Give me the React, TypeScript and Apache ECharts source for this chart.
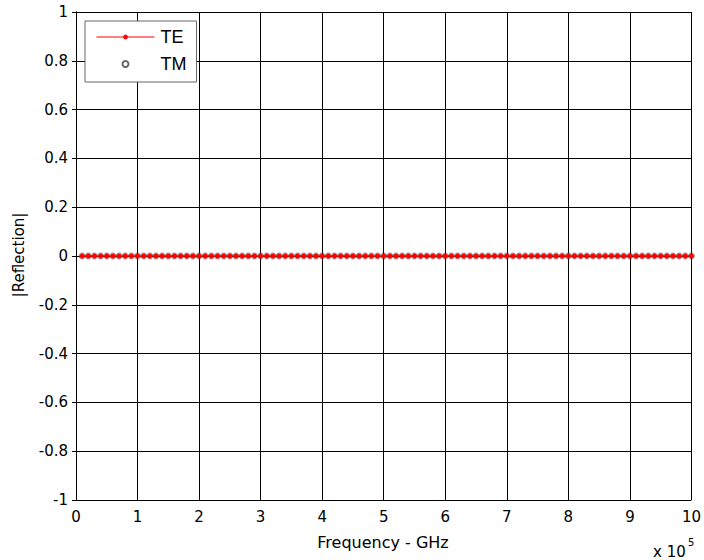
import React, { useEffect, useRef } from "react";
import * as echarts from "echarts";

// Frequency in units of 1e5 GHz
const frequency: number[] = [
  0.1, 0.2, 0.3, 0.4, 0.5, 0.6, 0.7, 0.8, 0.9, 1.0,
  1.1, 1.2, 1.3, 1.4, 1.5, 1.6, 1.7, 1.8, 1.9, 2.0,
  2.1, 2.2, 2.3, 2.4, 2.5, 2.6, 2.7, 2.8, 2.9, 3.0,
  3.1, 3.2, 3.3, 3.4, 3.5, 3.6, 3.7, 3.8, 3.9, 4.0,
  4.1, 4.2, 4.3, 4.4, 4.5, 4.6, 4.7, 4.8, 4.9, 5.0,
  5.1, 5.2, 5.3, 5.4, 5.5, 5.6, 5.7, 5.8, 5.9, 6.0,
  6.1, 6.2, 6.3, 6.4, 6.5, 6.6, 6.7, 6.8, 6.9, 7.0,
  7.1, 7.2, 7.3, 7.4, 7.5, 7.6, 7.7, 7.8, 7.9, 8.0,
  8.1, 8.2, 8.3, 8.4, 8.5, 8.6, 8.7, 8.8, 8.9, 9.0,
  9.1, 9.2, 9.3, 9.4, 9.5, 9.6, 9.7, 9.8, 9.9, 10.0,
];

const reflectionTE: number[] = [
  0, 0, 0, 0, 0, 0, 0, 0, 0, 0,
  0, 0, 0, 0, 0, 0, 0, 0, 0, 0,
  0, 0, 0, 0, 0, 0, 0, 0, 0, 0,
  0, 0, 0, 0, 0, 0, 0, 0, 0, 0,
  0, 0, 0, 0, 0, 0, 0, 0, 0, 0,
  0, 0, 0, 0, 0, 0, 0, 0, 0, 0,
  0, 0, 0, 0, 0, 0, 0, 0, 0, 0,
  0, 0, 0, 0, 0, 0, 0, 0, 0, 0,
  0, 0, 0, 0, 0, 0, 0, 0, 0, 0,
  0, 0, 0, 0, 0, 0, 0, 0, 0, 0,
];

const reflectionTM: number[] = [
  0, 0, 0, 0, 0, 0, 0, 0, 0, 0,
  0, 0, 0, 0, 0, 0, 0, 0, 0, 0,
  0, 0, 0, 0, 0, 0, 0, 0, 0, 0,
  0, 0, 0, 0, 0, 0, 0, 0, 0, 0,
  0, 0, 0, 0, 0, 0, 0, 0, 0, 0,
  0, 0, 0, 0, 0, 0, 0, 0, 0, 0,
  0, 0, 0, 0, 0, 0, 0, 0, 0, 0,
  0, 0, 0, 0, 0, 0, 0, 0, 0, 0,
  0, 0, 0, 0, 0, 0, 0, 0, 0, 0,
  0, 0, 0, 0, 0, 0, 0, 0, 0, 0,
];

const seriesNames = ["TE", "TM"];
const xAxisTitle = "Frequency - GHz";
const yAxisTitle = "|Reflection|";
const scaleBase = "x 10";
const scaleExponent = "5";
const FONT = "'DejaVu Sans', sans-serif";
const LEGEND_FONT = "'Liberation Sans', Arial, sans-serif";

export default function App() {
  const ref = useRef<HTMLDivElement>(null);
  useEffect(() => {
    if (!ref.current) return;
    const chart = echarts.init(ref.current, null, { renderer: "svg" });
    const axisLine = { show: true, lineStyle: { color: "#000", width: 1 } };
    const tickStyle = { show: true, inside: true, length: 4, lineStyle: { color: "#000" } };
    chart.setOption({
      animation: false,
      backgroundColor: "#fff",
      grid: { left: 76, right: 8, top: 12, bottom: 60, containLabel: false },
      legend: {
        left: 85,
        top: 21,
        orient: "vertical",
        data: seriesNames,
        backgroundColor: "#fff",
        borderColor: "#666",
        borderWidth: 1,
        borderRadius: 0,
        padding: [7, 10, 9, 11],
        itemGap: 9,
        itemWidth: 58,
        itemHeight: 6,
        lineStyle: { width: 1 },
        textStyle: { fontFamily: LEGEND_FONT, fontSize: 18, color: "#000", padding: [0, 0, 0, 1] },
      },
      xAxis: [
        {
          type: "value",
          min: 0,
          max: 10,
          interval: 1,
          position: "bottom",
          axisLine,
          axisTick: tickStyle,
          axisLabel: { fontFamily: FONT, fontSize: 15, color: "#000", margin: 9 },
          splitLine: { show: true, lineStyle: { color: "#000", width: 1 } },
        },
        {
          type: "value",
          min: 0,
          max: 10,
          interval: 1,
          position: "top",
          axisLine,
          axisTick: tickStyle,
          axisLabel: { show: false },
          splitLine: { show: false },
        },
      ],
      yAxis: [
        {
          type: "value",
          min: -1,
          max: 1,
          interval: 0.2,
          position: "left",
          axisLine,
          axisTick: tickStyle,
          axisLabel: {
            fontFamily: FONT,
            fontSize: 15,
            color: "#000",
            margin: 8,
            formatter: (v: number) => {
              const r = Math.round(v * 10) / 10;
              if (r === 0) return "0";
              if (r === 1) return "1";
              if (r === -1) return "-1";
              return r.toFixed(1);
            },
          },
          splitLine: { show: true, lineStyle: { color: "#000", width: 1 } },
        },
        {
          type: "value",
          min: -1,
          max: 1,
          interval: 0.2,
          position: "right",
          axisLine,
          axisTick: tickStyle,
          axisLabel: { show: false },
          splitLine: { show: false },
        },
      ],
      graphic: [
        {
          type: "text",
          x: 383,
          y: 542,
          style: {
            text: xAxisTitle,
            fontFamily: FONT,
            fontSize: 16,
            fill: "#000",
            align: "center",
            verticalAlign: "middle",
          },
        },
        {
          type: "text",
          x: 19,
          y: 255,
          rotation: Math.PI / 2,
          style: {
            text: yAxisTitle,
            fontFamily: FONT,
            fontSize: 15,
            fill: "#000",
            align: "center",
            verticalAlign: "middle",
          },
        },
        {
          type: "text",
          x: 653,
          y: 552,
          style: { text: scaleBase, fontFamily: FONT, fontSize: 15, fill: "#000", align: "left", verticalAlign: "middle" },
        },
        {
          type: "text",
          x: 688,
          y: 542,
          style: { text: scaleExponent, fontFamily: FONT, fontSize: 10, fill: "#000", align: "left", verticalAlign: "middle" },
        },
      ],
      series: [
        {
          name: "TM",
          type: "scatter",
          xAxisIndex: 0,
          yAxisIndex: 0,
          data: frequency.map((f, i) => [f, reflectionTM[i]]),
          symbol: "circle",
          symbolSize: 6,
          itemStyle: { color: "rgba(255,255,255,0)", borderColor: "#444", borderWidth: 0.8 },
          z: 2,
        },
        {
          name: "TE",
          type: "line",
          xAxisIndex: 0,
          yAxisIndex: 0,
          data: frequency.map((f, i) => [f, reflectionTE[i]]),
          symbol: "circle",
          symbolSize: 5,
          showSymbol: true,
          lineStyle: { color: "#ff0000", width: 1 },
          itemStyle: { color: "#ff0000", borderColor: "#ff0000", borderWidth: 0 },
          z: 3,
        },
      ],
    });
    return () => chart.dispose();
  }, []);
  return (
    <div
      ref={ref}
      style={{ position: "absolute", left: 0, top: 0, width: 704, height: 560 }}
    />
  );
}
